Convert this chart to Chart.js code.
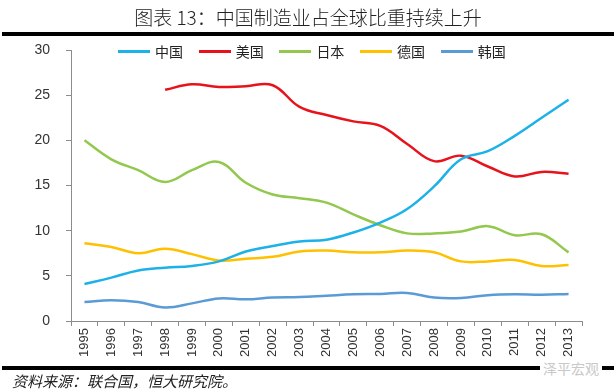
<!DOCTYPE html>
<html>
<head>
<meta charset="utf-8">
<script src="https://cdn.jsdelivr.net/npm/chart.js@4.4.0/dist/chart.umd.min.js"></script>
<style>
  body { margin: 0; width: 616px; height: 392px; background: #fff; position: relative; overflow: hidden; font-family: "Noto Sans CJK SC", sans-serif; }
  #title { position: absolute; top: 3px; left: 0; width: 616px; text-align: center; font-size: 19px; color: #222; font-weight: 300; }
  .rule { position: absolute; left: 2px; width: 612px; height: 4px; background: #000; }
  #chart { position: absolute; left: 0; top: 0; }
  #legend { position: absolute; top: 41px; left: 118px; display: flex; font-size: 14px; color: #222; }
  .item { width: 80.7px; display: flex; align-items: center; }
  .swatch { width: 32px; height: 3px; margin-right: 5px; }
  #source { position: absolute; left: 12px; top: 370px; font-size: 15px; font-style: italic; color: #222; }
  #mark { position: absolute; left: 540px; top: 358px; font-size: 14px; color: #c8c8c8; background: #fff; padding: 0 3px; }
</style>
</head>
<body>
<canvas id="chart" width="616" height="392"></canvas>
<div id="title">图表 13：中国制造业占全球比重持续上升</div>
<div class="rule" style="top:32px"></div>
<div class="rule" style="top:366px"></div>
<div id="legend"></div>
<div id="source">资料来源：联合国，恒大研究院。</div>
<div id="mark">泽平宏观</div>
<script>
// 年份與各國製造業佔全球比重 (%)
const years = ['1995', '1996', '1997', '1998', '1999', '2000', '2001', '2002', '2003', '2004',
  '2005', '2006', '2007', '2008', '2009', '2010', '2011', '2012', '2013'];
const seriesNames = ['中国', '美国', '日本', '德国', '韩国'];
const seriesColors = ['#1cb2e8', '#e8121c', '#92c84e', '#ffc000', '#5b9bd5'];
const china = [4.1, 4.8, 5.6, 5.9, 6.1, 6.6, 7.7, 8.3, 8.8, 9.0, 9.8, 10.9, 12.4, 14.9, 17.9, 18.8, 20.5, 22.5, 24.5];
const usa = [null, null, null, 25.6, 26.2, 25.9, 26.0, 26.1, 23.7, 22.8, 22.1, 21.6, 19.6, 17.7, 18.3, 17.1, 16.0, 16.5, 16.3];
const japan = [20.0, 17.9, 16.7, 15.4, 16.7, 17.6, 15.3, 14.0, 13.6, 13.1, 11.8, 10.6, 9.7, 9.7, 9.9, 10.5, 9.5, 9.6, 7.6];
const germany = [8.6, 8.2, 7.5, 8.0, 7.4, 6.7, 6.9, 7.1, 7.7, 7.8, 7.6, 7.6, 7.8, 7.6, 6.6, 6.6, 6.75, 6.1, 6.2];
const korea = [2.1, 2.3, 2.1, 1.5, 1.95, 2.5, 2.4, 2.6, 2.65, 2.8, 2.95, 3.0, 3.1, 2.6, 2.55, 2.85, 2.95, 2.9, 3.0];
const yTicks = { min: 0, max: 30, step: 5 };

const allData = [china, usa, japan, germany, korea];
const axisColor = '#8c8c8c';
const tickFont = { family: '"Liberation Sans", Arial, sans-serif', size: 13 };

new Chart(document.getElementById('chart'), {
  type: 'line',
  data: {
    labels: years,
    datasets: allData.map((d, i) => ({
      label: seriesNames[i],
      data: d,
      borderColor: seriesColors[i],
      backgroundColor: seriesColors[i],
      borderWidth: 2.5,
      pointRadius: 0,
      tension: 0.4,
      fill: false,
    })),
  },
  options: {
    responsive: false,
    animation: false,
    layout: { padding: { left: 0, top: 50, right: 34, bottom: 31 } },
    plugins: { legend: { display: false }, tooltip: { enabled: false } },
    scales: {
      x: {
        offset: true,
        afterFit: (s) => { s.height = 40; },
        grid: { display: true, drawOnChartArea: false, drawTicks: true, tickLength: 5, offset: true, color: axisColor },
        border: { color: axisColor, width: 1 },
        ticks: { minRotation: 90, maxRotation: 90, autoSkip: false, color: '#333', font: { ...tickFont, size: 13 }, padding: 2 },
      },
      y: {
        min: yTicks.min,
        max: yTicks.max,
        afterFit: (s) => { s.width = 71; },
        grid: { display: true, drawOnChartArea: false, drawTicks: true, tickLength: 5, color: axisColor },
        border: { color: axisColor, width: 1 },
        ticks: { stepSize: yTicks.step, color: '#333', font: { ...tickFont, size: 14 }, padding: 16 },
      },
    },
  },
});

// HTML 圖例
const lg = document.getElementById('legend');
seriesNames.forEach((n, i) => {
  const it = document.createElement('div');
  it.className = 'item';
  it.innerHTML = `<span class="swatch" style="background:${seriesColors[i]}"></span><span>${n}</span>`;
  lg.appendChild(it);
});
</script>
</body>
</html>
